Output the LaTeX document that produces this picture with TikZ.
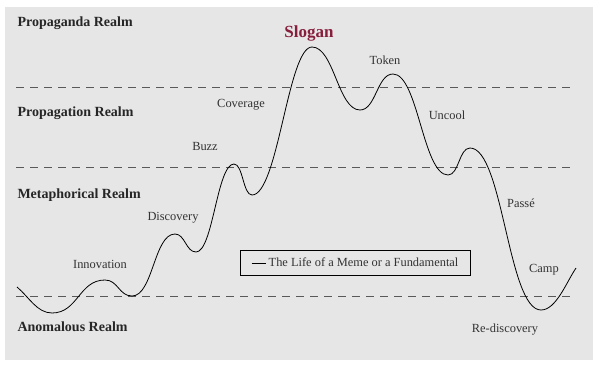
\documentclass[tikz,border=0pt]{standalone}
\usepackage{fontspec}
\setmainfont{Liberation Serif}
\definecolor{fond}{RGB}{230,230,230}
\definecolor{bordeaux}{RGB}{135,30,60}
\newcommand{\phase}[1]{\textcolor{black!80}{#1}}

\begin{document}
\begin{tikzpicture}[x=1pt,y=-1pt,
  realm/.style={anchor=west,font=\fontsize{14}{16}\selectfont\bfseries,text=black!85},
  lbl/.style={font=\fontsize{12.4}{14}\selectfont},
  seuil/.style={gray!70!black,dash pattern=on 8pt off 6pt}]
\useasboundingbox (0,0) rectangle (598,367);
\fill[fond] (5,7) rectangle (593,360);

% les seuils
\foreach \y/\n in {87/a,167/b,296/c}{
  \coordinate (s\n w) at (16,\y);
  \coordinate (s\n e) at (575,\y);
  \draw[seuil] (s\n w) -- (s\n e);
}

\node[realm] (propaganda) at (14,23) {Propaganda Realm};
\node[realm] (propagation) at (14,113) {Propagation Realm};
\node[realm] (metaphor) at (14,195) {Metaphorical Realm};
\node[realm] (anomal) at (14,327) {Anomalous Realm};

% extrema de la courbe
\coordinate (debut) at (17,287);
\coordinate (m1) at (52,313);
\coordinate (innov) at (105,280);
\coordinate (m2) at (132,296);
\coordinate (disc) at (175,234);
\coordinate (m3) at (196,252);
\coordinate (buzz) at (234,164);
\coordinate (m4) at (252,195);
\coordinate (slogan) at (312,47);
\coordinate (m5) at (360,110);
\coordinate (token) at (393,74);
\coordinate (m6) at (448,175);
\coordinate (uncool) at (470,148);
\coordinate (redisc) at (541,310);
\coordinate (fin) at (576,268);

\draw[line width=0.8pt] (debut) .. controls +(12,10) and +(-15,0) .. (m1)
  .. controls +(26,0) and +(-26,0) .. (innov)
  .. controls +(13,0) and +(-13,0) .. (m2)
  .. controls +(21,0) and +(-21,0) .. (disc)
  .. controls +(10,0) and +(-10,0) .. (m3)
  .. controls +(17,0) and +(-17,0) .. (buzz)
  .. controls +(9,0) and +(-9,0) .. (m4)
  .. controls +(26,0) and +(-24,0) .. (slogan)
  .. controls +(22,0) and +(-22,0) .. (m5)
  .. controls +(16,0) and +(-16,0) .. (token)
  .. controls +(25,0) and +(-25,0) .. (m6)
  .. controls +(11,0) and +(-11,0) .. (uncool)
  .. controls +(33,0) and +(-33,0) .. (redisc)
  .. controls +(15,0) and +(-10,15) .. (fin);

\node[font=\fontsize{17}{19}\selectfont\bfseries,text=bordeaux] (tslogan) at (309,33) {Slogan};
\node[lbl] (tinnov) at (100,264) {\phase{Innovation}};
\node[lbl] (tdisc) at (173,218) {\phase{Discovery}};
\node[lbl] (tbuzz) at (205,146) {\phase{Buzz}};
\node[lbl] (tcover) at (241,105) {\phase{Coverage}};
\node[lbl] (ttoken) at (385,60) {\phase{Token}};
\node[lbl] (tuncool) at (447,115) {\phase{Uncool}};
\node[lbl] (tpasse) at (521,203) {\phase{Passé}};
\node[lbl] (tcamp) at (544,270) {\phase{Camp}};
\node[lbl] (tredisc) at (505,330) {\phase{Re-discovery}};

\node[lbl,draw,line width=0.7pt,minimum width=230pt,minimum height=25pt] (legende) at (355,262.5)
  {\rule[3.5pt]{14pt}{0.6pt}\ \phase{The Life of a Meme or a Fundamental}};
\end{tikzpicture}
\end{document}
